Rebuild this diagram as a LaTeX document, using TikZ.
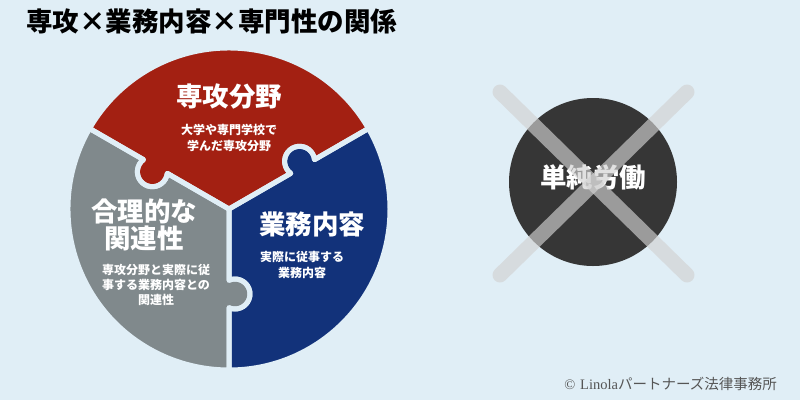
\documentclass[tikz,border=0pt]{standalone}
\usepackage{fontspec}
\newfontfamily\jp{Noto Sans CJK JP}
\newfontfamily\lserif{Liberation Serif}
\definecolor{bgc}{HTML}{E0EEF6}
\definecolor{redc}{HTML}{A32012}
\definecolor{bluec}{HTML}{12327A}
\definecolor{grayc}{HTML}{80898C}
\definecolor{darkc}{HTML}{363636}
\definecolor{xc}{HTML}{D2D2D2}
\definecolor{copyc}{HTML}{555555}
\def\kt{85}\def\kr{15}\def\kw{13.75}\def\ka{23.57}\def\RR{161}
% outward along ray #1 with knob bulging to the +angle side
\newcommand\RayOut[1]{-- (#1:{\kt-\kw}) arc[start angle={#1+180+\ka}, end angle={#1-\ka}, radius=\kr] -- (#1:\RR)}
\newcommand\RayIn[1]{-- (#1:{\kt+\kw}) arc[start angle={#1-\ka}, end angle={#1+180+\ka}, radius=\kr] -- (0,0)}
\newcommand\PieceRed{(0,0) \RayOut{30} arc[start angle=30, end angle=150, radius=\RR] \RayIn{150} -- cycle}
\newcommand\PieceGray{(0,0) \RayOut{150} arc[start angle=150, end angle=270, radius=\RR] \RayIn{270} -- cycle}
\newcommand\PieceBlue{(0,0) \RayOut{270} arc[start angle=270, end angle=390, radius=\RR] \RayIn{390} -- cycle}
\tikzset{
  gap/.style={draw=bgc, line width=5pt, line join=round},
  bigtxt/.style={text=white, font=\jp\bfseries\fontsize{26.5}{30}\selectfont, align=center, inner sep=0pt},
  smalltxt/.style={text=white, font=\jp\bfseries\fontsize{12}{16.5}\selectfont, align=center, inner sep=0pt},
  xline/.style={draw=xc, draw opacity=0.65, line width=15pt, line cap=round},
}
\begin{document}
\begin{tikzpicture}[x=1pt, y=-1pt]
\fill[bgc] (0,0) rectangle (800,400);
\useasboundingbox (0,0) rectangle (800,400);
% title
\node[anchor=west, inner sep=0pt, font=\jp\bfseries\fontsize{26.5}{30}\selectfont] (title) at (26,21) {専攻×業務内容×専門性の関係};
% puzzle pie
\begin{scope}[shift={(229,209)}, yscale=-1]
  \fill[redc] \PieceRed;
  \fill[grayc] \PieceGray;
  \fill[bluec] \PieceBlue;
  \draw[gap] \PieceRed;
  \draw[gap] \PieceGray;
  \draw[gap] \PieceBlue;
\end{scope}
\node[bigtxt] (redtitle) at (229,96) {専攻分野};
\node[smalltxt] (redtext) at (229,138) {大学や専門学校で\\学んだ専攻分野};
\node[bigtxt] (bluetitle) at (312,224) {業務内容};
\node[smalltxt] (bluetext) at (302,265) {実際に従事する\\業務内容};
\node[bigtxt, font=\jp\bfseries\fontsize{26.5}{24}\selectfont] (graytitle) at (144,225) {合理的な\\関連性};
\node[smalltxt, font=\jp\bfseries\fontsize{12}{15}\selectfont] (graytext) at (156,285) {専攻分野と実際に従\\事する業務内容との\\関連性};
% crossed-out circle
\fill[darkc] (593,182) circle[radius=84];
\node[bigtxt] (labor) at (593,177) {単純労働};
\coordinate (xa) at (500,92);
\coordinate (xb) at (687,275);
\coordinate (xc) at (687,92);
\coordinate (xd) at (500,275);
\draw[xline] (xa) -- (xb);
\draw[xline] (xc) -- (xd);
% copyright
\node[anchor=east, inner sep=0pt, text=copyc, font=\fontsize{14.5}{16}\selectfont] (copy) at (777,384) {{\lserif ©} {\lserif Linola}{\jp パートナーズ法律事務所}};
\end{tikzpicture}
\end{document}
